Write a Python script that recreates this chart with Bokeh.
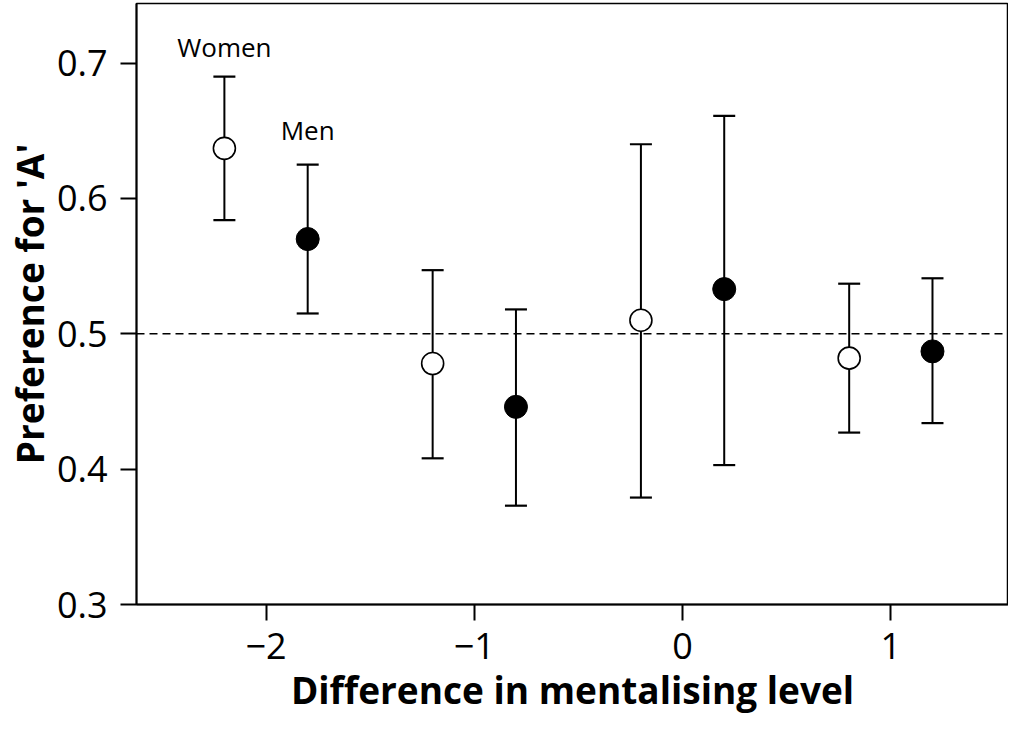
from bokeh.plotting import figure
from bokeh.models import ColumnDataSource, Whisker, TeeHead, Span, Range1d, FixedTicker, Label
from bokeh.embed import file_html
from bokeh.resources import INLINE

# Data
women_x = [-2.2, -1.2, -0.2, 0.8]
women_y = [0.637, 0.478, 0.510, 0.482]
women_lo = [0.584, 0.408, 0.379, 0.427]
women_hi = [0.690, 0.547, 0.640, 0.537]

men_x = [-1.8, -0.8, 0.2, 1.2]
men_y = [0.570, 0.446, 0.533, 0.487]
men_lo = [0.515, 0.373, 0.403, 0.434]
men_hi = [0.625, 0.518, 0.661, 0.541]

x_ticks = [-2, -1, 0, 1]
y_ticks = [0.3, 0.4, 0.5, 0.6, 0.7]
reference_level = 0.5

FONT = "Open Sans"

p = figure(width=1008, height=717, output_backend="svg", toolbar_location=None,
           x_range=Range1d(-2.622, 1.565), y_range=Range1d(0.3, 0.744),
           min_border_left=0, min_border_right=0, min_border_top=3, min_border_bottom=0)

p.xgrid.visible = False
p.ygrid.visible = False
p.outline_line_color = "black"
p.outline_line_width = 1.5
p.background_fill_color = "white"
p.border_fill_color = "white"

for ax in (p.xaxis[0], p.yaxis[0]):
    ax.axis_line_width = 2
    ax.major_tick_line_width = 2
    ax.major_tick_out = 16
    ax.major_tick_in = 0
    ax.minor_tick_line_color = None
    ax.major_label_text_font = FONT
    ax.major_label_text_font_size = "36px"
    ax.major_label_text_color = "black"
    ax.axis_label_text_font = FONT
    ax.axis_label_text_font_size = "37px"
    ax.axis_label_text_font_style = "bold"
    ax.axis_label_text_color = "black"

p.xaxis.ticker = FixedTicker(ticks=x_ticks)
p.yaxis.ticker = FixedTicker(ticks=y_ticks)
p.xaxis.major_label_overrides = {t: ("\u2212" + str(abs(t)) if t < 0 else str(t)) for t in x_ticks}
p.yaxis.major_label_overrides = {t: f"{t:.1f}" for t in y_ticks}
p.xaxis.axis_label = "Difference in mentalising level"
p.yaxis.axis_label = "Preference for 'A'"
p.xaxis.major_label_standoff = 12
p.yaxis.major_label_standoff = 13
p.xaxis.axis_label_standoff = 2
p.yaxis.axis_label_standoff = -1

p.add_layout(Span(location=reference_level, dimension="width", line_color="black",
                  line_width=1.5, line_dash="8 5"))

wsrc = ColumnDataSource(dict(x=women_x, y=women_y, lo=women_lo, hi=women_hi))
msrc = ColumnDataSource(dict(x=men_x, y=men_y, lo=men_lo, hi=men_hi))

for src in (wsrc, msrc):
    w = Whisker(source=src, base="x", upper="hi", lower="lo", dimension="height",
                line_color="black", line_width=2, level="underlay",
                upper_head=TeeHead(size=22, line_width=2.2, line_color="black"),
                lower_head=TeeHead(size=22, line_width=2.2, line_color="black"))
    p.add_layout(w)

p.scatter("x", "y", source=wsrc, marker="circle", size=22, fill_color="white",
          line_color="black", line_width=1.6)
p.scatter("x", "y", source=msrc, marker="circle", size=23, fill_color="black",
          line_color="black", line_width=1)

p.add_layout(Label(x=women_x[0], y=women_hi[0], text="Women", text_align="center",
                   text_baseline="alphabetic", y_offset=30, text_font=FONT,
                   text_font_size="26px", text_color="black"))
p.add_layout(Label(x=men_x[0], y=men_hi[0], text="Men", text_align="center",
                   text_baseline="alphabetic", y_offset=35, text_font=FONT,
                   text_font_size="26px", text_color="black"))

open("out.html", "w").write(file_html(p, INLINE))
